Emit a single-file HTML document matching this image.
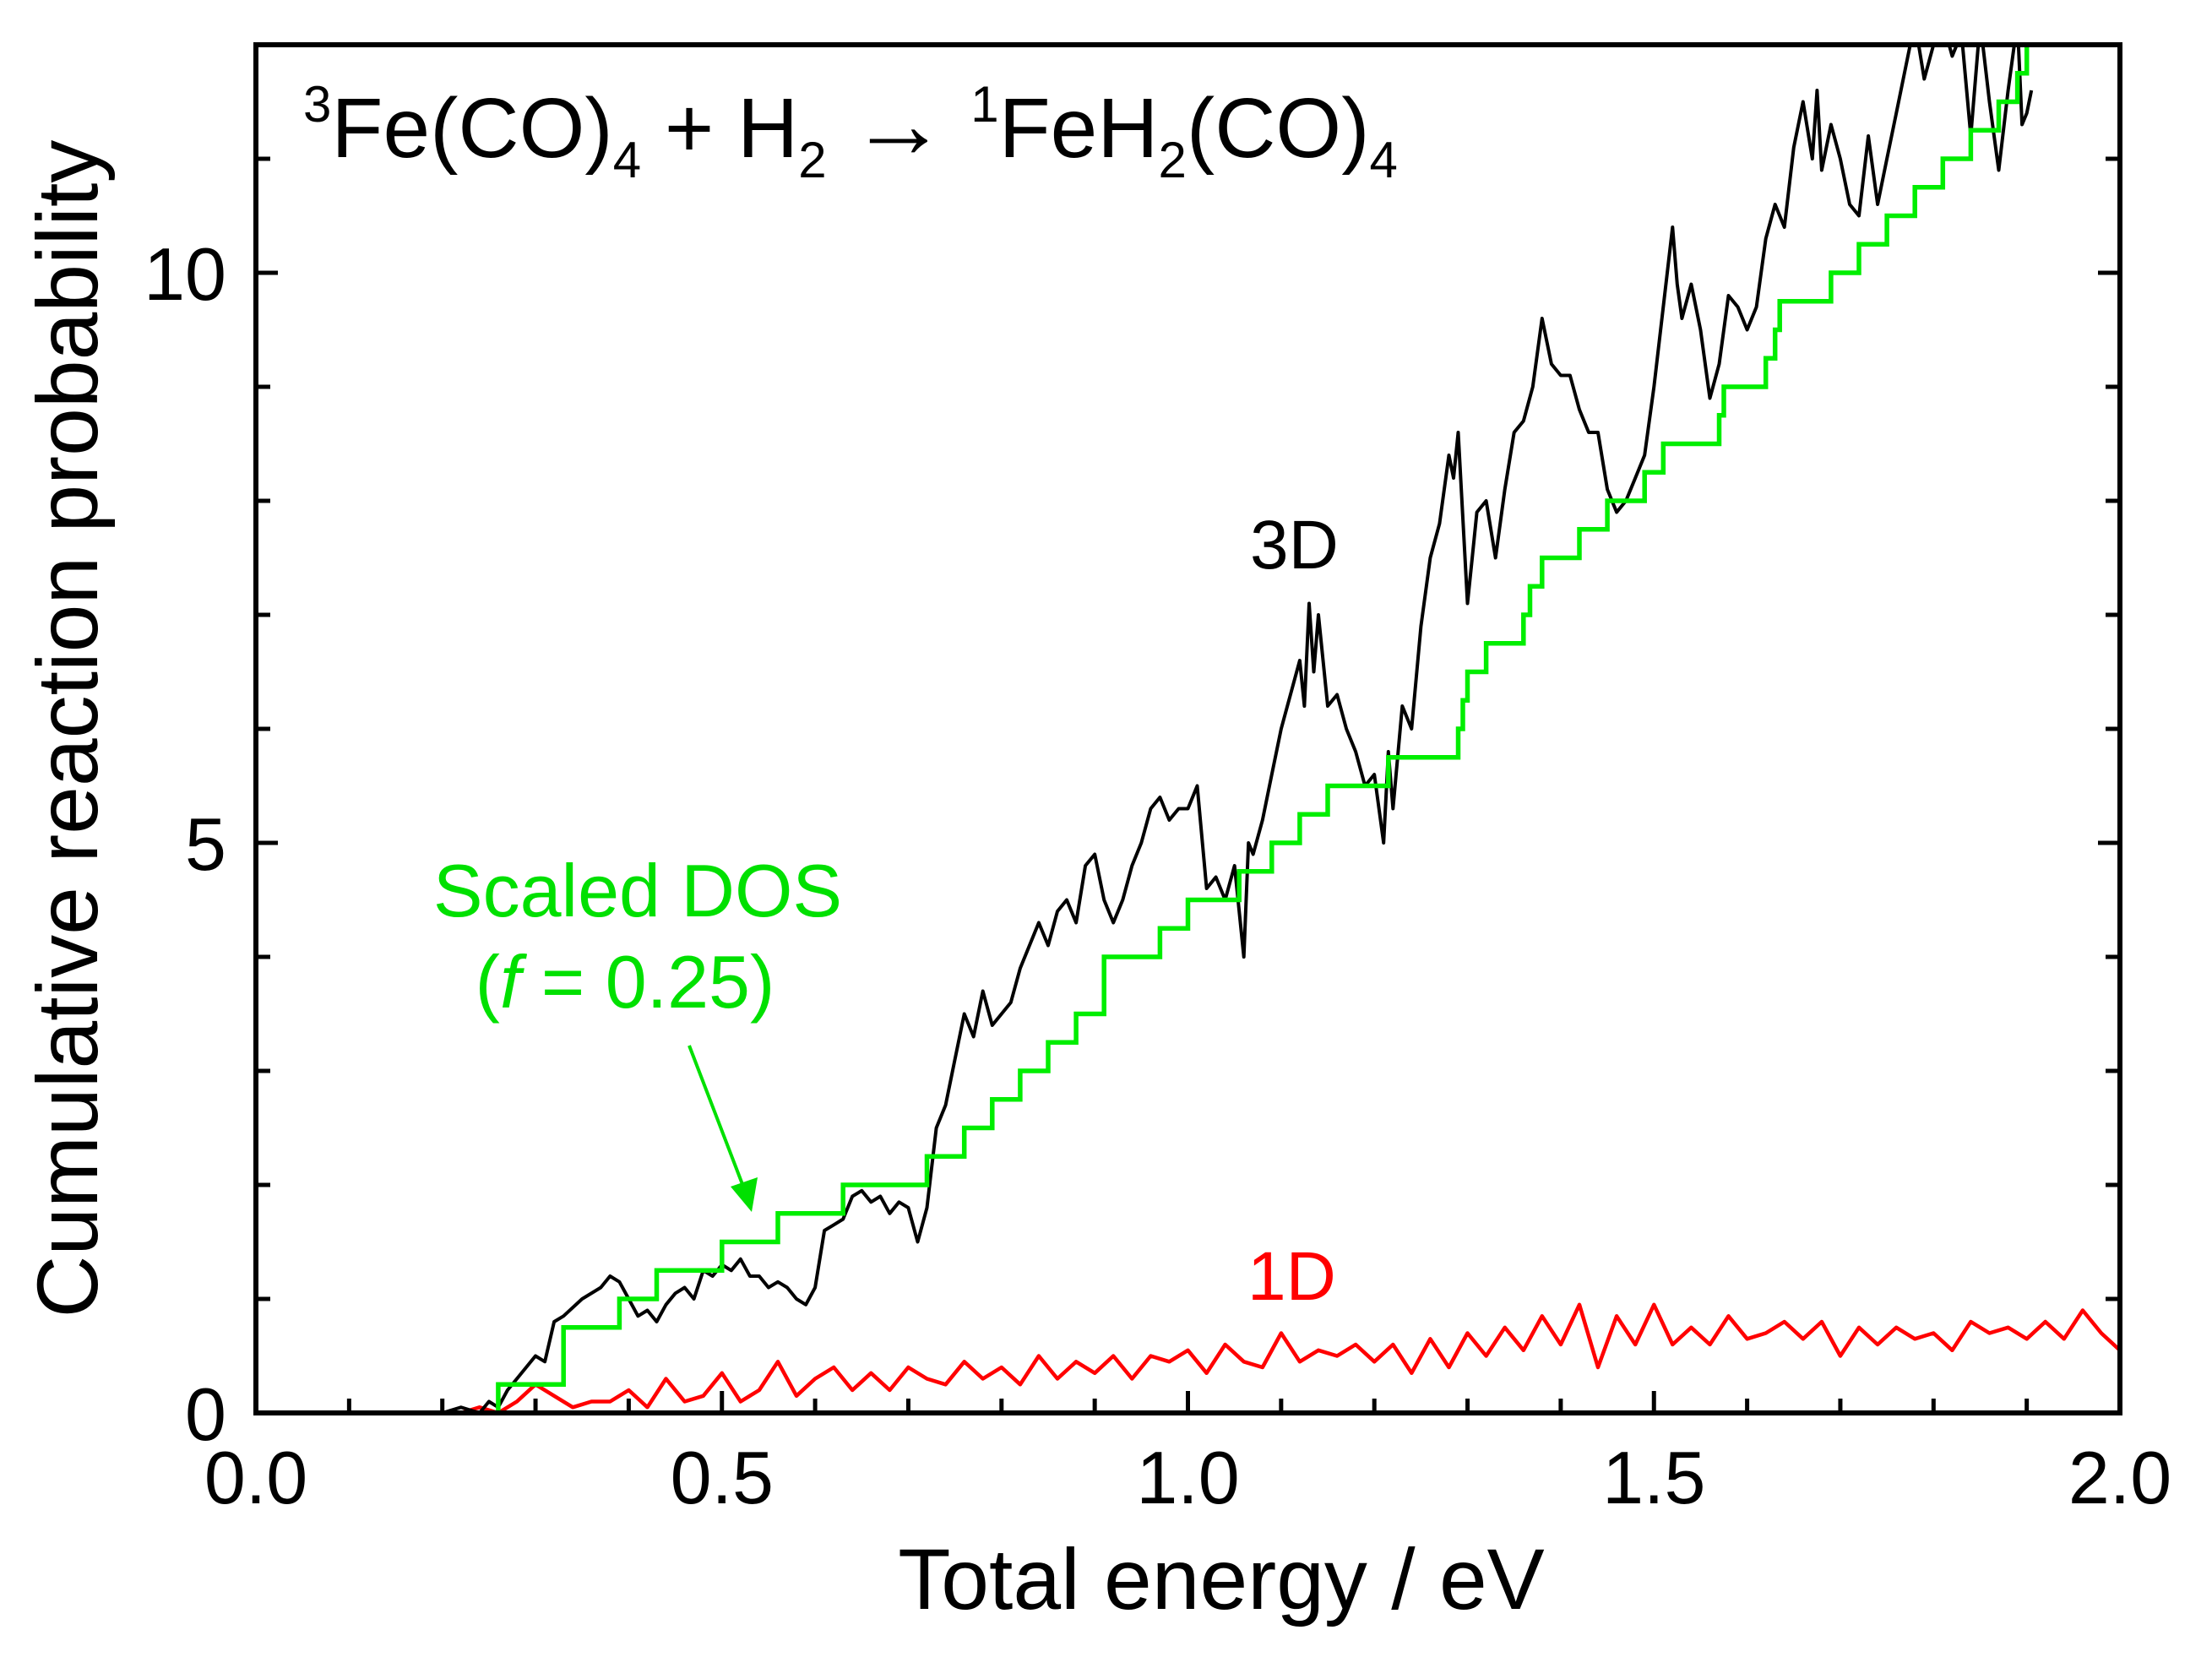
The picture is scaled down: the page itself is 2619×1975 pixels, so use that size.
<!DOCTYPE html>
<html><head><meta charset="utf-8"><style>
html,body{margin:0;padding:0;background:#fff;}
svg{display:block;font-family:"Liberation Sans",sans-serif;}
</style></head><body>
<svg id="chart" width="2619" height="1975" viewBox="0 0 2619 1975" xmlns="http://www.w3.org/2000/svg">
<defs><clipPath id="clip"><rect x="303" y="53" width="2207" height="1620"/></clipPath></defs>
<g id="series" clip-path="url(#clip)"></g>
<g id="axes"></g>
<text x="359" y="186" font-size="100" fill="#000"><tspan font-size="60" dy="-42">3</tspan><tspan dy="42">Fe(CO)</tspan><tspan font-size="60" dy="24">4</tspan><tspan dy="-24"> + H</tspan><tspan font-size="60" dy="24">2</tspan><tspan dy="-24"> </tspan><tspan font-size="115">→</tspan><tspan> </tspan><tspan font-size="60" dy="-42">1</tspan><tspan dy="42">FeH</tspan><tspan font-size="60" dy="24">2</tspan><tspan dy="-24">(CO)</tspan><tspan font-size="60" dy="24">4</tspan></text>
<text x="1480" y="673" font-size="82" fill="#000">3D</text>
<text x="1477" y="1539" font-size="82" fill="#ff0000">1D</text>
<text x="755" y="1085" font-size="88" fill="#00e000" text-anchor="middle">Scaled DOS</text>
<text x="740" y="1193" font-size="88" fill="#00e000" text-anchor="middle">(<tspan font-style="italic">f</tspan> = 0.25)</text>
<line x1="816" y1="1238" x2="882" y2="1410" stroke="#00e000" stroke-width="4"/>
<polygon points="890,1435 865,1405 897,1394" fill="#00e000"/>
<text x="1446" y="1905" font-size="102" text-anchor="middle">Total energy / eV</text>
<text transform="translate(115,863) rotate(-90)" font-size="102" text-anchor="middle">Cumulative reaction probability</text>
</svg>
<script>
const xTicks=[0,0.5,1.0,1.5,2.0];
const xTickLabels=["0.0","0.5","1.0","1.5","2.0"];
const yTicks=[0,5,10];
const yTickLabels=["0","5","10"];
const dosE=[0.26,0.33,0.39,0.43,0.5,0.56,0.63,0.72,0.76,0.79,0.82,0.85,0.88,0.91,0.97,1.0,1.055,1.09,1.12,1.15,1.215,1.29,1.295,1.30,1.32,1.36,1.367,1.38,1.42,1.45,1.49,1.51,1.57,1.575,1.62,1.63,1.635,1.69,1.72,1.75,1.78,1.81,1.84,1.87,1.89,1.9,1.935];
const dosV=[0.25,0.75,1.0,1.25,1.5,1.75,2.0,2.25,2.5,2.75,3.0,3.25,3.5,4.0,4.25,4.5,4.75,5.0,5.25,5.5,5.75,6.0,6.25,6.5,6.75,7.0,7.25,7.5,7.75,8.0,8.25,8.5,8.75,9.0,9.25,9.5,9.75,10.0,10.25,10.5,10.75,11.0,11.25,11.5,11.75,12.0,12.0];
const e3D=[0.2,0.22,0.24,0.25,0.26,0.27,0.28,0.3,0.31,0.32,0.33,0.35,0.37,0.38,0.39,0.4,0.41,0.42,0.43,0.44,0.45,0.46,0.47,0.48,0.49,0.5,0.51,0.52,0.53,0.54,0.55,0.56,0.57,0.58,0.59,0.6,0.61,0.62,0.63,0.64,0.65,0.66,0.67,0.68,0.69,0.7,0.71,0.72,0.73,0.74,0.75,0.76,0.77,0.78,0.79,0.8,0.81,0.82,0.83,0.84,0.85,0.86,0.87,0.88,0.89,0.9,0.91,0.92,0.93,0.94,0.95,0.96,0.97,0.98,0.99,1.0,1.01,1.02,1.03,1.04,1.05,1.06,1.065,1.07,1.08,1.09,1.1,1.11,1.12,1.125,1.13,1.135,1.14,1.15,1.16,1.17,1.18,1.19,1.2,1.21,1.215,1.22,1.23,1.24,1.25,1.26,1.27,1.28,1.285,1.29,1.3,1.305,1.31,1.32,1.33,1.34,1.35,1.36,1.37,1.38,1.39,1.4,1.41,1.42,1.43,1.44,1.45,1.46,1.47,1.48,1.49,1.5,1.51,1.52,1.525,1.53,1.54,1.55,1.56,1.57,1.58,1.59,1.6,1.61,1.62,1.63,1.64,1.65,1.66,1.67,1.675,1.68,1.69,1.7,1.71,1.72,1.73,1.74,1.75,1.76,1.77,1.78,1.79,1.8,1.81,1.82,1.83,1.84,1.85,1.86,1.87,1.88,1.89,1.895,1.9,1.905];
const v3D=[0,0.05,0,0.1,0.05,0.2,0.3,0.5,0.45,0.8,0.85,1.0,1.1,1.2,1.15,1.0,0.85,0.9,0.8,0.95,1.05,1.1,1.0,1.25,1.2,1.3,1.25,1.35,1.2,1.2,1.1,1.15,1.1,1.0,0.95,1.1,1.6,1.65,1.7,1.9,1.95,1.85,1.9,1.75,1.85,1.8,1.5,1.8,2.5,2.7,3.1,3.5,3.3,3.7,3.4,3.5,3.6,3.9,4.1,4.3,4.1,4.4,4.5,4.3,4.8,4.9,4.5,4.3,4.5,4.8,5.0,5.3,5.4,5.2,5.3,5.3,5.5,4.6,4.7,4.5,4.8,4.0,5.0,4.9,5.2,5.6,6.0,6.3,6.6,6.2,7.1,6.5,7.0,6.2,6.3,6.0,5.8,5.5,5.6,5.0,5.8,5.3,6.2,6.0,6.9,7.5,7.8,8.4,8.2,8.6,7.1,7.5,7.9,8.0,7.5,8.1,8.6,8.7,9.0,9.6,9.2,9.1,9.1,8.8,8.6,8.6,8.1,7.9,8.0,8.2,8.4,9.0,9.7,10.4,9.9,9.6,9.9,9.5,8.9,9.2,9.8,9.7,9.5,9.7,10.3,10.6,10.4,11.1,11.5,11.0,11.6,10.9,11.3,11.0,10.6,10.5,11.2,10.6,11.0,11.4,11.8,12.2,11.7,12.0,12.2,11.9,12.1,11.2,12.2,11.5,10.9,11.6,12.2,11.3,11.4,11.6];
const e1D=[0.22,0.24,0.26,0.28,0.30,0.32,0.34,0.36,0.38,0.40,0.42,0.44,0.46,0.48,0.50,0.52,0.54,0.56,0.58,0.60,0.62,0.64,0.66,0.68,0.70,0.72,0.74,0.76,0.78,0.80,0.82,0.84,0.86,0.88,0.90,0.92,0.94,0.96,0.98,1.00,1.02,1.04,1.06,1.08,1.10,1.12,1.14,1.16,1.18,1.20,1.22,1.24,1.26,1.28,1.30,1.32,1.34,1.36,1.38,1.40,1.42,1.44,1.46,1.48,1.50,1.52,1.54,1.56,1.58,1.60,1.62,1.64,1.66,1.68,1.70,1.72,1.74,1.76,1.78,1.80,1.82,1.84,1.86,1.88,1.90,1.92,1.94,1.96,1.98,2.00];
const v1D=[0,0.05,0,0.1,0.25,0.15,0.05,0.1,0.1,0.2,0.05,0.3,0.1,0.15,0.35,0.1,0.2,0.45,0.15,0.3,0.4,0.2,0.35,0.2,0.4,0.3,0.25,0.45,0.3,0.4,0.25,0.5,0.3,0.45,0.35,0.5,0.3,0.5,0.45,0.55,0.35,0.6,0.45,0.4,0.7,0.45,0.55,0.5,0.6,0.45,0.6,0.35,0.65,0.4,0.7,0.5,0.75,0.55,0.85,0.6,0.95,0.4,0.85,0.6,0.95,0.6,0.75,0.6,0.85,0.65,0.7,0.8,0.65,0.8,0.5,0.75,0.6,0.75,0.65,0.7,0.55,0.8,0.7,0.75,0.65,0.8,0.65,0.9,0.7,0.55];

const X0=303,X1=2510,Y0=1673,Y1=53,XMAX=2,YMAX=12;
const sx=e=>X0+(e/XMAX)*(X1-X0);
const sy=v=>Y0-(v/YMAX)*(Y0-Y1);
const NS="http://www.w3.org/2000/svg";
const series=document.getElementById('series');
const axes=document.getElementById('axes');
function mk(tag,attrs,parent){const el=document.createElementNS(NS,tag);for(const k in attrs)el.setAttribute(k,attrs[k]);parent.appendChild(el);return el;}

let d=e1D.map((e,i)=>(i?'L':'M')+sx(e).toFixed(1)+','+sy(v1D[i]).toFixed(1)).join('');
let p=mk('path',{d:d,fill:'none',stroke:'#ff0000','stroke-width':4.5,'stroke-linejoin':'round'},series);


d=e3D.map((e,i)=>(i?'L':'M')+sx(e).toFixed(1)+','+sy(v3D[i]).toFixed(1)).join('');
p=mk('path',{d:d,fill:'none',stroke:'#000','stroke-width':4,'stroke-linejoin':'round'},series);


d='M'+sx(dosE[0]).toFixed(1)+','+sy(0).toFixed(1);
for(let i=0;i<dosE.length;i++){
  const prev=i?dosV[i-1]:0;
  d+='L'+sx(dosE[i]).toFixed(1)+','+sy(prev).toFixed(1)+'L'+sx(dosE[i]).toFixed(1)+','+sy(dosV[i]).toFixed(1);
}
p=mk('path',{d:d,fill:'none',stroke:'#00ee00','stroke-width':5.5},series);



let fr=mk('rect',{x:X0,y:Y1,width:X1-X0,height:Y0-Y1,fill:'none',stroke:'#000','stroke-width':6},axes);


for(let k=1;k<20;k++){
  const e=k*0.1;const major=(k%5===0);
  const t=mk('line',{x1:sx(e),x2:sx(e),y1:Y0,y2:Y0-(major?26:17),stroke:'#000','stroke-width':5},axes);
  
  
}
xTicks.forEach((e,i)=>{
  const t=mk('text',{x:sx(e),y:1780,'font-size':88,'text-anchor':'middle'},axes);
  t.textContent=xTickLabels[i];
  
  
});
for(let k=1;k<12;k++){
  const major=(k%5===0);const L=major?26:17;
  const t=mk('line',{x1:X0,x2:X0+L,y1:sy(k),y2:sy(k),stroke:'#000','stroke-width':5},axes);
  
  
  const t2=mk('line',{x1:X1,x2:X1-L,y1:sy(k),y2:sy(k),stroke:'#000','stroke-width':5},axes);
  
  
}
yTicks.forEach((v,i)=>{
  const t=mk('text',{x:268,y:sy(v)+32,'font-size':88,'text-anchor':'end'},axes);
  t.textContent=yTickLabels[i];
  
  
});
</script>
</body></html>
